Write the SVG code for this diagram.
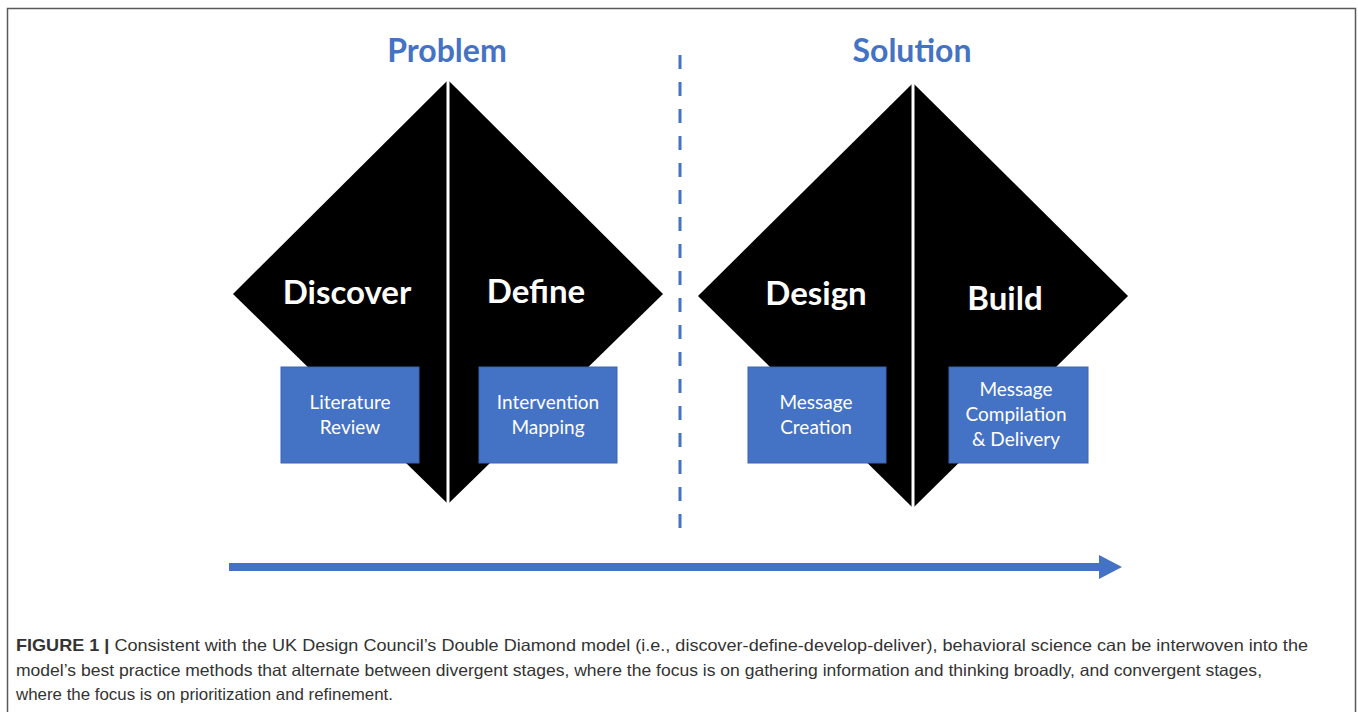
<svg xmlns="http://www.w3.org/2000/svg" width="1358" height="712" viewBox="0 0 1358 712">
  <style>
    .phase { font-family: Lato, "Open Sans", sans-serif; font-weight: 700; font-size: 32px; fill: #4472c4; text-anchor: middle; }
    .stage { font-family: Lato, "Open Sans", sans-serif; font-weight: 700; font-size: 33px; fill: #ffffff; text-anchor: middle; }
    .diamond { fill: #000000; }
    .split { stroke: #ffffff; stroke-width: 3; }
    .box { fill: #4472c4; stroke: #3a64b0; stroke-width: 1; }
    .boxtext { font-family: Lato, "Open Sans", sans-serif; font-size: 19px; fill: #ffffff; text-anchor: middle; }
    .caption { font-family: "Liberation Sans", Arial, sans-serif; font-size: 16.5px; fill: #333333; }
  </style>

  <rect width="1358" height="712" fill="#ffffff"/>
  <!-- figure frame (open at the bottom) -->
  <path d="M7.5,712 V8.5 H1355.5 V712" fill="none" stroke="#5a5a5a" stroke-width="1.5"/>

  <!-- phase headings -->
  <text class="phase" x="447" y="62">Problem</text>
  <text class="phase" x="912" y="62">Solution</text>

  <!-- Problem diamond -->
  <g id="discover">
    <polygon class="diamond" points="448,80 233,294 448,504"/>
    <text class="stage" x="347" y="304">Discover</text>
  </g>
  <g id="define">
    <polygon class="diamond" points="448,80 663,294 448,504"/>
    <text class="stage" x="536" y="303">Define</text>
  </g>
  <line class="split" x1="448" y1="80" x2="448" y2="504"/>

  <!-- Solution diamond -->
  <g id="design">
    <polygon class="diamond" points="913,83 698,296 913,508"/>
    <text class="stage" x="816" y="305">Design</text>
  </g>
  <g id="build">
    <polygon class="diamond" points="913,83 1128,296 913,508"/>
    <text class="stage" x="1005" y="310">Build</text>
  </g>
  <line class="split" x1="913" y1="83" x2="913" y2="508"/>

  <!-- method boxes -->
  <g id="literature-review">
    <rect class="box" x="281" y="367" width="138" height="96"/>
    <text class="boxtext" x="350" y="409">Literature</text>
    <text class="boxtext" x="350" y="434">Review</text>
  </g>
  <g id="intervention-mapping">
    <rect class="box" x="479" y="367" width="138" height="96"/>
    <text class="boxtext" x="548" y="409">Intervention</text>
    <text class="boxtext" x="548" y="434">Mapping</text>
  </g>
  <g id="message-creation">
    <rect class="box" x="748" y="367" width="138" height="96"/>
    <text class="boxtext" x="816" y="409">Message</text>
    <text class="boxtext" x="816" y="434">Creation</text>
  </g>
  <g id="message-compilation">
    <rect class="box" x="949" y="367" width="139" height="96"/>
    <text class="boxtext" x="1016" y="396">Message</text>
    <text class="boxtext" x="1016" y="421">Compilation</text>
    <text class="boxtext" x="1016" y="446">&amp; Delivery</text>
  </g>

  <g id="connectors">
    <!-- problem / solution divider -->
    <line x1="680" y1="55" x2="680" y2="541" stroke="#4472c4" stroke-width="3" stroke-dasharray="14 13"/>
    <!-- process direction arrow -->
    <rect x="229" y="563" width="872" height="8" fill="#4472c4"/>
    <polygon points="1099,555 1122,567 1099,579" fill="#4472c4"/>
  </g>

  <!-- caption -->
  <text class="caption" x="16" y="651" textLength="1292" lengthAdjust="spacingAndGlyphs"><tspan font-weight="700">FIGURE 1 |</tspan> Consistent with the UK Design Council’s Double Diamond model (i.e., discover-define-develop-deliver), behavioral science can be interwoven into the</text>
  <text class="caption" x="16" y="676" textLength="1246" lengthAdjust="spacingAndGlyphs">model’s best practice methods that alternate between divergent stages, where the focus is on gathering information and thinking broadly, and convergent stages,</text>
  <text class="caption" x="16" y="700" textLength="377" lengthAdjust="spacingAndGlyphs">where the focus is on prioritization and refinement.</text>
</svg>
